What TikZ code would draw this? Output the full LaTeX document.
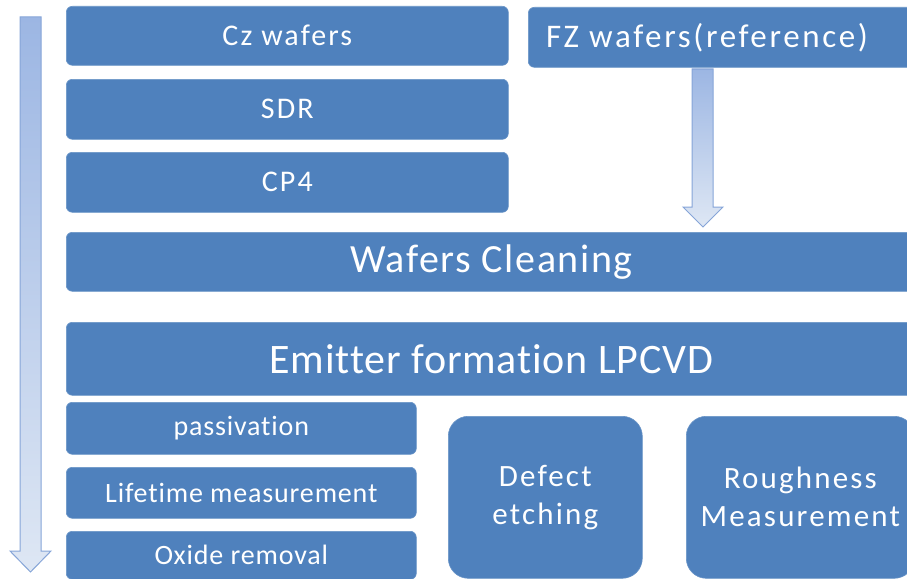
\documentclass[tikz,border=0pt]{standalone}
\usepackage{fontspec}
\setmainfont[Ligatures=NoCommon]{Carlito}
\definecolor{boxblue}{HTML}{4F81BD}
\definecolor{arrowtop}{HTML}{9CB6E3}
\definecolor{arrowbot}{HTML}{DEE7F4}
\definecolor{arrowline}{HTML}{86A5D8}
\tikzset{
  stepbox/.style={fill=boxblue, draw=boxblue!85!white, line width=0.6pt,
    rounded corners=6pt, anchor=north west, inner sep=0pt, text=white},
  bigbox/.style={stepbox, rounded corners=20pt},
  flowarrow/.style={top color=arrowtop, bottom color=arrowbot, draw=arrowline, line width=1pt, line join=miter},
}
% size, baseline skip, letter spacing
\newcommand{\fs}[3]{\fontsize{#1}{#2}\selectfont\addfontfeatures{LetterSpace=#3}}
\begin{document}
\begin{tikzpicture}[x=1pt,y=-1pt]
\useasboundingbox (0,0) rectangle (907,578);
\clip (0,0) rectangle (907,578);

% left column of preparation steps
\node[stepbox, minimum width=442pt, minimum height=59pt, font=\fs{30}{36}{7}] (cz) at (66,6) {Cz wafers};
\node[stepbox, minimum width=442pt, minimum height=60pt, font=\fs{30}{36}{7}] (sdr) at (66,79) {SDR};
\node[stepbox, minimum width=442pt, minimum height=60pt, font=\fs{30}{36}{7}] (cp4) at (66,152) {CP4};

% reference wafers
\node[stepbox, minimum width=400pt, minimum height=60pt] (fz) at (528,7) {};
\node[text=white, font=\fs{33}{40}{8}] (fzt) at (707,38) {FZ wafers(reference)};

% full-width process steps
\node[stepbox, minimum width=850pt, minimum height=59pt, font=\fs{40}{48}{4}] (clean) at (66,232) {Wafers Cleaning};
\node[stepbox, minimum width=850pt, minimum height=73pt, font=\fs{42}{50}{2}] (emit) at (66,322) {Emitter formation LPCVD};

% characterisation steps
\node[stepbox, minimum width=350pt, minimum height=52pt, font=\fs{28}{34}{3}] (pass) at (66,402) {passivation};
\node[stepbox, minimum width=350pt, minimum height=51pt, font=\fs{28}{34}{3}] (life) at (66,467) {Lifetime measurement};
\node[stepbox, minimum width=350pt, minimum height=48pt, font=\fs{28}{34}{3}] (oxide) at (66,531) {Oxide removal};
\node[bigbox, minimum width=194pt, minimum height=162pt, align=center, font=\fs{31}{38}{7}] (defect) at (448,416) {Defect\\etching};
\node[bigbox, minimum width=228pt, minimum height=162pt, align=center, font=\fs{31}{38}{7}] (rough) at (686,416) {Roughness\\Measurement};

% block arrows
\path[flowarrow] (20,17) -- (41,17) -- (41,551) -- (51,551) -- (30.5,572) -- (10,551) -- (20,551) -- cycle;
\path[flowarrow] (692,69) -- (713,69) -- (713,207) -- (723,207) -- (703,227) -- (683,207) -- (692,207) -- cycle;
\end{tikzpicture}
\end{document}
